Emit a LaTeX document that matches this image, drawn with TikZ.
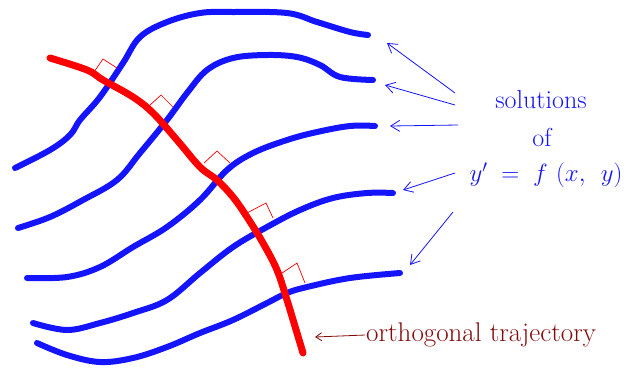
\documentclass[tikz,border=0pt]{standalone}
\usepackage{amsmath,amssymb}
\usepackage{xcolor}
\usetikzlibrary{arrows.meta,positioning}

\definecolor{solblue}{RGB}{20,20,255}
\definecolor{trajred}{RGB}{255,0,0}
\definecolor{darkred}{RGB}{130,10,10}

\tikzset{
  solcurve/.style={solblue, line width=6pt, line cap=round, line join=round},
  trajcurve/.style={trajred, line width=7pt, line cap=round, line join=round},
  rightmark/.style={trajred, line width=0.7pt},
  pointer/.style={solblue, line width=0.8pt, -{Straight Barb[length=9pt,width=11pt]}},
  lbl/.style={solblue, font=\fontsize{26}{30}\selectfont, inner sep=1pt},
}

\begin{document}
\begin{tikzpicture}[x=1pt, y=-1pt]
\useasboundingbox (0,0) rectangle (631,368);
% solution curves
\draw[solcurve] plot[smooth, tension=0.6] coordinates {(15,168) (50,150) (70,135) (80,120) (100,97) (123,63) (140,37) (167,22) (200,13) (233,12) (287,13) (317,22) (350,32) (368,35)};
\draw[solcurve] plot[smooth, tension=0.6] coordinates {(18,228) (50,217) (83,200) (117,180) (140,153) (167,120) (187,93) (207,70) (233,58) (267,55) (297,57) (320,65) (340,77) (373,80)};
\draw[solcurve] plot[smooth, tension=0.6] coordinates {(27,278) (67,277) (100,267) (133,247) (167,227) (200,200) (227,170) (253,153) (287,140) (317,132) (350,126) (375,126)};
\draw[solcurve] plot[smooth, tension=0.6] coordinates {(33,323) (67,330) (100,323) (133,313) (167,300) (200,273) (233,247) (267,227) (300,210) (333,198) (367,193) (393,193)};
\draw[solcurve] plot[smooth, tension=0.6] coordinates {(37,343) (67,355) (100,362) (133,358) (167,347) (200,333) (233,320) (267,303) (287,293) (307,287) (350,278) (400,273)};
% orthogonal trajectory
\draw[trajcurve] plot[smooth, tension=0.6] coordinates {(50,58) (87,70) (103,80) (133,97) (153,113) (177,140) (200,167) (217,180) (233,197) (247,217) (263,243) (277,270) (287,300) (297,333) (303,353)};
% right angle marks
\draw[rightmark] (94,72) -- (103,59) -- (117,68);
\draw[rightmark] (149,106) -- (161,95) -- (173,107);
\draw[rightmark] (204,163) -- (217,151) -- (230,163);
\draw[rightmark] (247,213) -- (266,203) -- (273,218);
\draw[rightmark] (282,273) -- (297,263) -- (305,283);
% labels
\node[lbl] (sol) at (541,100) {solutions};
\node[lbl] (of) at (542,137) {of};
\node[lbl] (eq) at (546,175) {$y'\;=\;f\,\,(x,\;\,y)$};
\node[darkred, font=\fontsize{27}{30}\selectfont, anchor=west, inner sep=1pt] (orth) at (365,335) {orthogonal trajectory};
% curve ends and pointer tails
\coordinate (e1) at (387,43);
\coordinate (e2) at (385,85);
\coordinate (e3) at (390,126);
\coordinate (e4) at (403,190);
\coordinate (e5) at (410,265);
\coordinate (t1) at (455,93);
\coordinate (t2) at (455,105);
\coordinate (t3) at (458,125);
\coordinate (t4) at (455,173);
\coordinate (t5) at (453,212);
\coordinate (et) at (315,337);
\foreach \i in {1,...,5} {
  \draw[pointer] (t\i) -- (e\i);
}
\draw[darkred, line width=0.8pt, -{Straight Barb[length=6pt,width=8pt]}] (orth.west) -- (et);
\end{tikzpicture}
\end{document}
